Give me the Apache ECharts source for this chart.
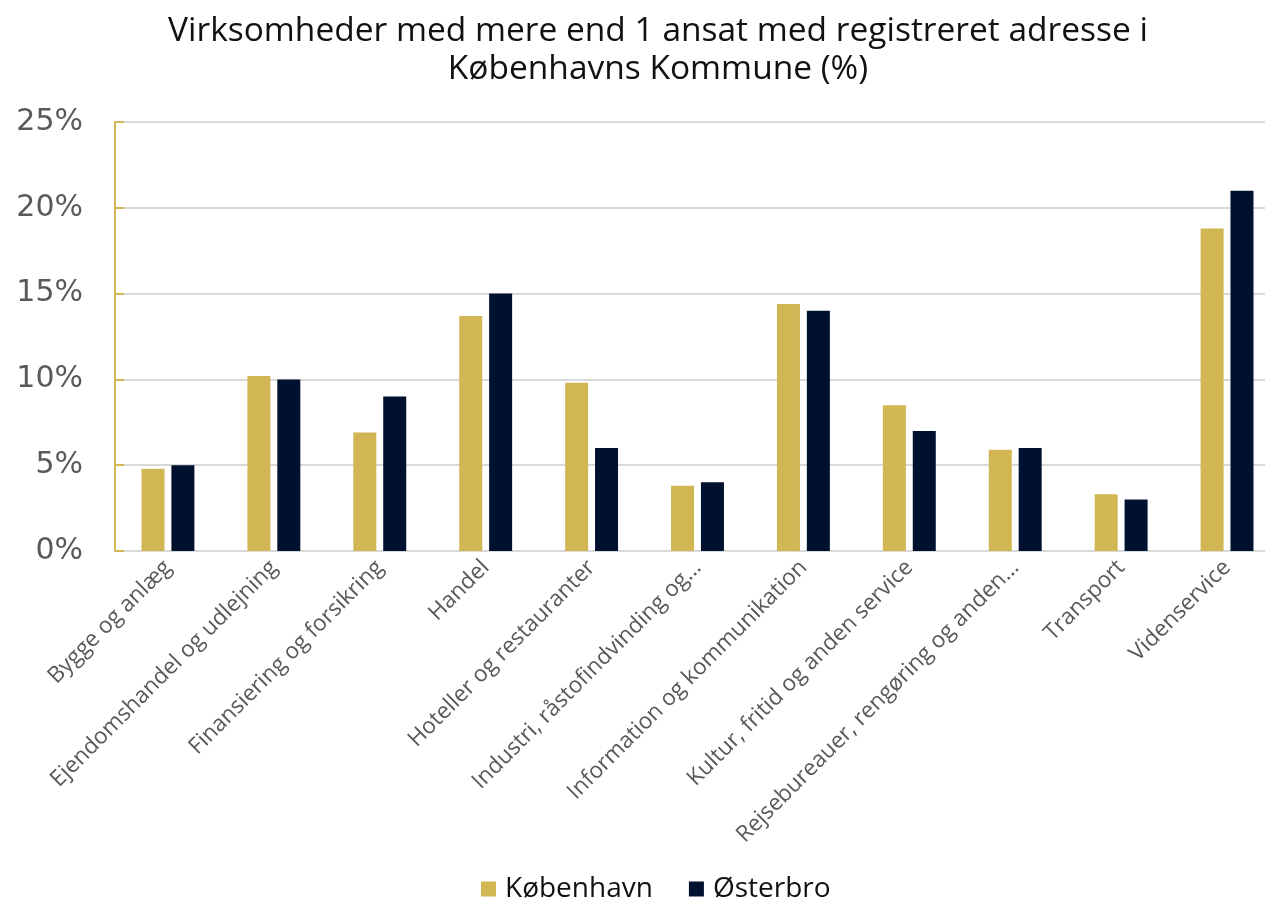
<!DOCTYPE html>
<html>
<head>
<meta charset="utf-8">
<script src="https://cdn.jsdelivr.net/npm/echarts@6/dist/echarts.min.js"></script>
<style>
html,body{margin:0;padding:0;background:#fff;overflow:hidden;width:1265px;height:899px;}
#chart{width:1285px;height:899px;}
</style>
</head>
<body>
<div id="chart"></div>
<script>
const categories = [
  "Bygge og anlæg",
  "Ejendomshandel og udlejning",
  "Finansiering og forsikring",
  "Handel",
  "Hoteller og restauranter",
  "Industri, råstofindvinding og…",
  "Information og kommunikation",
  "Kultur, fritid og anden service",
  "Rejsebureauer, rengøring og anden…",
  "Transport",
  "Videnservice"
];
const kobenhavn = [4.8, 10.2, 6.9, 13.7, 9.8, 3.8, 14.4, 8.5, 5.9, 3.3, 18.8];
const osterbro  = [5.0, 10.0, 9.0, 15.0, 6.0, 4.0, 14.0, 7.0, 6.0, 3.0, 21.0];
const seriesNames = ["København", "Østerbro"];
const yTicks = [0, 5, 10, 15, 20, 25];

const chart = echarts.init(document.getElementById('chart'));
chart.setOption({
  animation: false,
  title: {
    text: "Virksomheder med mere end 1 ansat med registreret adresse i\nKøbenhavns Kommune (%)",
    left: 653, top: 7, textAlign: 'center',
    textStyle: { fontFamily: 'Open Sans', fontSize: 33.5, fontWeight: 'normal', color: '#111', lineHeight: 38 }
  },
  legend: {
    data: seriesNames,
    top: 870, left: 476,
    itemWidth: 15, itemHeight: 15, itemGap: 36,
    icon: 'rect',
    textStyle: { fontFamily: 'Open Sans', fontSize: 28, color: '#111', padding: [0, 0, 0, 4] }
  },
  grid: { left: 115, top: 122, width: 1165, bottom: 348, containLabel: false },
  xAxis: {
    type: 'category',
    data: categories,
    axisLine: { lineStyle: { color: '#d9d9d9', width: 2 } },
    axisTick: { show: false },
    axisLabel: {
      rotate: 45, interval: 0, margin: 13,
      fontFamily: 'Open Sans', fontSize: 22.5, color: '#595959'
    }
  },
  yAxis: {
    type: 'value',
    min: yTicks[0], max: yTicks[yTicks.length - 1], interval: 5,
    axisLine: { show: true, lineStyle: { color: '#D2B653', width: 2 } },
    axisTick: { show: true, inside: true, length: 9, lineStyle: { color: '#D2B653', width: 2 } },
    splitLine: { lineStyle: { color: '#d9d9d9', width: 2 } },
    axisLabel: {
      formatter: '{value}%', margin: 32,
      fontFamily: 'DejaVu Sans', fontSize: 30, color: '#595959'
    }
  },
  series: [
    { name: seriesNames[0], type: 'bar', data: kobenhavn, barWidth: 23, barGap: '30%',
      itemStyle: { color: '#D2B653' } },
    { name: seriesNames[1], type: 'bar', data: osterbro, barWidth: 23, barGap: '30%',
      itemStyle: { color: '#00102F' } }
  ]
});
</script>
</body>
</html>
